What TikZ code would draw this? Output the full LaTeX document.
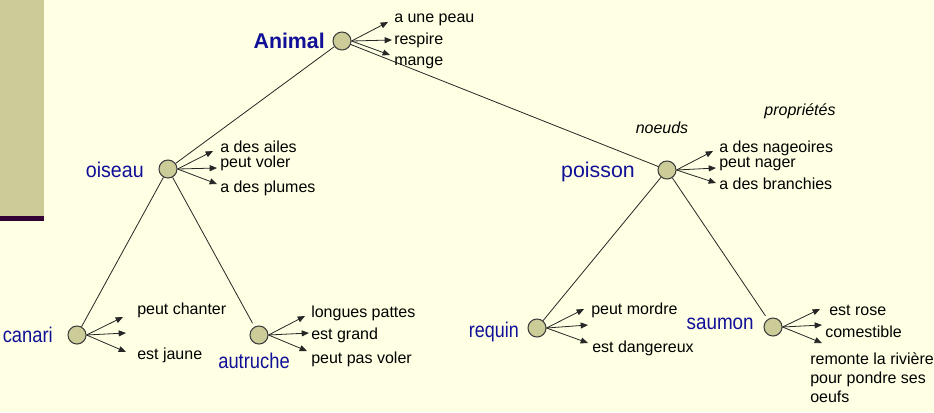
\documentclass[tikz,border=0pt]{standalone}
\usepackage{fontspec}
\setmainfont{Liberation Sans}
\usetikzlibrary{arrows.meta}
\definecolor{bgyellow}{HTML}{FFFFE3}
\definecolor{khaki}{HTML}{CCCC99}
\definecolor{darkplum}{HTML}{330033}
\definecolor{navy}{HTML}{101098}
\newcommand{\squeeze}[2]{\scalebox{#1}[1]{#2}}
\begin{document}
\begin{tikzpicture}[x=0.75pt,y=-0.75pt,
  concept/.style={circle, draw=black!75, fill=khaki, minimum size=13.5pt, inner sep=0pt, line width=0.8pt},
  cname/.style={text=navy, font=\fontsize{16}{19}\selectfont, inner sep=0pt, anchor=base east},
  prop/.style={font=\fontsize{12}{14.25}\selectfont, inner sep=0pt, anchor=base west},
  note/.style={font=\fontsize{12}{14.25}\selectfont\itshape, inner sep=0pt, anchor=base},
  parr/.style={-{Triangle[length=5.5pt,width=4.5pt]}, line width=0.6pt, black!85},
  treeedge/.style={line width=0.6pt, black!85}]
\fill[bgyellow] (0,0) rectangle (934,412);
\useasboundingbox (0,0) rectangle (934,412);
\fill[khaki] (0,0) rectangle (44,216);
\fill[darkplum] (0,216) rectangle (44,221);

% concept nodes
\node[concept] (animal) at (342,41) {};
\node[concept] (oiseau) at (168,169) {};
\node[concept] (poisson) at (667,170) {};
\node[concept] (canari) at (77,335) {};
\node[concept] (autruche) at (259,335) {};
\node[concept] (requin) at (537,328) {};
\node[concept] (saumon) at (773,327) {};

% names
\node[cname, font=\fontsize{16}{19}\selectfont\bfseries] (lanimal) at (325,48) {Animal};
\node[cname] (loiseau) at (144,177) {\squeeze{0.92}{oiseau}};
\node[cname] (lpoisson) at (635,177) {poisson};
\node[cname] (lcanari) at (53,342) {\squeeze{0.86}{canari}};
\node[cname] (lautruche) at (290,368) {\squeeze{0.86}{autruche}};
\node[cname] (lrequin) at (519,337) {\squeeze{0.84}{requin}};
\node[cname] (lsaumon) at (754,329) {\squeeze{0.885}{saumon}};

% tree edges
\draw[treeedge] (animal) -- (oiseau);
\draw[treeedge] (animal) -- (poisson);
\draw[treeedge] (oiseau) -- (canari);
\draw[treeedge, shorten >=3pt] (oiseau) -- (autruche);
\draw[treeedge] (poisson) -- (requin);
\draw[treeedge, shorten >=3pt] (poisson) -- (saumon);

% annotations
\node[note] (noeuds) at (662,133) {noeuds};
\node[note] (proprietes) at (800,115) {propriétés};

% Animal properties
\coordinate (a1) at (388,22); \coordinate (a2) at (392,40); \coordinate (a3) at (390,55);
\foreach \c in {a1,a2,a3} \draw[parr] (animal.east) -- (\c);
\node[prop] (pa1) at (394,22) {a une peau};
\node[prop] (pa2) at (394,44) {respire};
\node[prop] (pa3) at (394,65) {mange};

% oiseau properties
\coordinate (o1) at (213,151); \coordinate (o2) at (217,168); \coordinate (o3) at (217,184);
\foreach \c in {o1,o2,o3} \draw[parr] (oiseau.east) -- (\c);
\node[prop] (po1) at (220,152) {a des ailes};
\node[prop] (po2) at (220,167) {peut voler};
\node[prop] (po3) at (220,192) {a des plumes};

% poisson properties
\coordinate (p1) at (713,151); \coordinate (p2) at (716,168); \coordinate (p3) at (716,183);
\foreach \c in {p1,p2,p3} \draw[parr] (poisson.east) -- (\c);
\node[prop] (pp1) at (719,152) {a des nageoires};
\node[prop] (pp2) at (719,167) {peut nager};
\node[prop] (pp3) at (719,189) {a des branchies};

% canari properties
\coordinate (c1) at (123,317); \coordinate (c2) at (126,333); \coordinate (c3) at (126,352);
\foreach \c in {c1,c2,c3} \draw[parr] (canari.east) -- (\c);
\node[prop] (pc1) at (137,314) {peut chanter};
\node[prop] (pc2) at (137,359) {est jaune};

% autruche properties
\coordinate (t1) at (305,316); \coordinate (t2) at (309,333); \coordinate (t3) at (307,351);
\foreach \c in {t1,t2,t3} \draw[parr] (autruche.east) -- (\c);
\node[prop] (pt1) at (311,317) {longues pattes};
\node[prop] (pt2) at (311,339) {est grand};
\node[prop] (pt3) at (311,363) {peut pas voler};

% requin properties
\coordinate (r1) at (584,309); \coordinate (r2) at (588,325); \coordinate (r3) at (588,343);
\foreach \c in {r1,r2,r3} \draw[parr] (requin.east) -- (\c);
\node[prop] (pr1) at (591,314) {peut mordre};
\node[prop] (pr2) at (592,352) {est dangereux};

% saumon properties
\coordinate (s1) at (820,309); \coordinate (s2) at (822,325); \coordinate (s3) at (822,343);
\foreach \c in {s1,s2,s3} \draw[parr] (saumon.east) -- (\c);
\node[prop] (ps1) at (829,315) {est rose};
\node[prop] (ps2) at (825,337) {comestible};
\node[prop, anchor=north west, align=left] (ps3) at (810,352.5) {remonte la rivière\\pour pondre ses\\oeufs};
\end{tikzpicture}
\end{document}
